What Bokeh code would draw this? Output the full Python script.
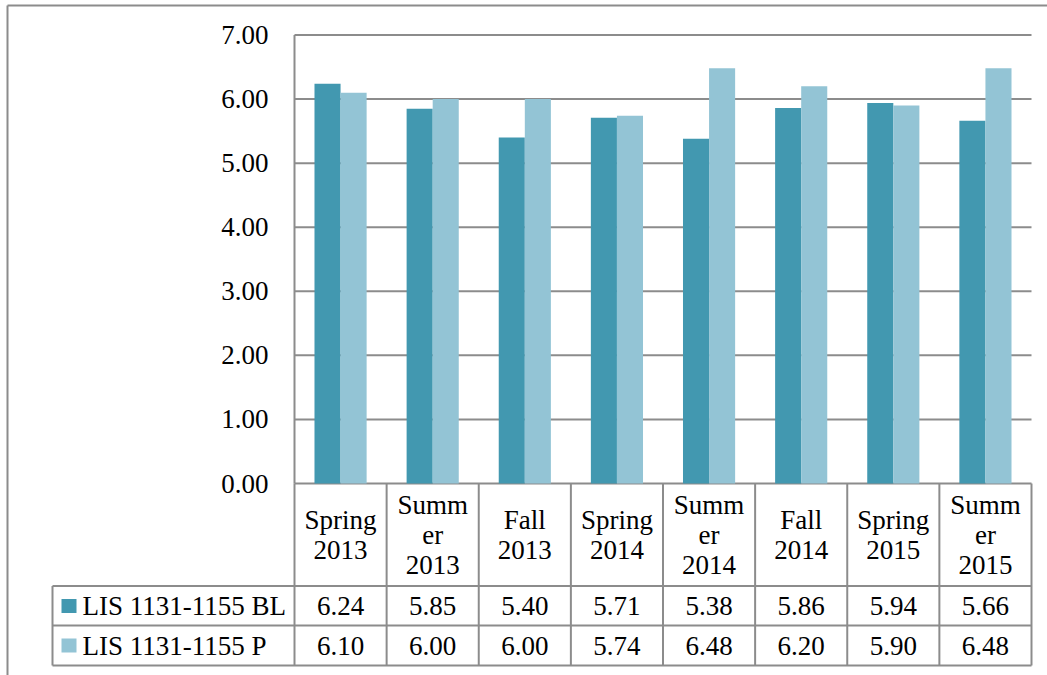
from bokeh.plotting import figure
from bokeh.models import Range1d
from bokeh.embed import file_html
from bokeh.resources import INLINE
from bokeh.core.properties import value

# ---------------- data ----------------
categories = ["Spring 2013", "Summer 2013", "Fall 2013", "Spring 2014",
              "Summer 2014", "Fall 2014", "Spring 2015", "Summer 2015"]
header_labels = ["Spring\n2013", "Summ\ner\n2013", "Fall\n2013", "Spring\n2014",
                 "Summ\ner\n2014", "Fall\n2014", "Spring\n2015", "Summ\ner\n2015"]
series_names = ["LIS 1131-1155 BL", "LIS 1131-1155 P"]
bl_values = [6.24, 5.85, 5.40, 5.71, 5.38, 5.86, 5.94, 5.66]
p_values = [6.10, 6.00, 6.00, 5.74, 6.48, 6.20, 5.90, 6.48]
y_ticks = [0, 1, 2, 3, 4, 5, 6, 7]
y_tick_labels = ["0.00", "1.00", "2.00", "3.00", "4.00", "5.00", "6.00", "7.00"]

# ---------------- style / layout ----------------
FONT = "Liberation Serif"
FS = "27px"
GRID = "#8c8c8c"
C_BL = "#4298b0"
C_P = "#93c4d5"
W, H = 1047, 675
ORIGIN_X, CAT_PX = 294.0, 92.125     # px of category 0 left edge, px per category
ZERO_Y, UNIT_PX = 483.0, 64.07       # px of value 0, px per value unit
BAR_W = 0.283

def cx(px):
    return (px - ORIGIN_X) / CAT_PX

def vy(py):
    return (ZERO_Y - py) / UNIT_PX

p = figure(width=W, height=H, x_range=Range1d(cx(0), cx(W)), y_range=Range1d(vy(H), vy(0)),
           output_backend="svg", toolbar_location=None,
           x_axis_location=None, y_axis_location=None,
           min_border_left=0, min_border_right=0, min_border_top=0, min_border_bottom=0)
p.outline_line_color = None
p.xgrid.visible = False
p.ygrid.visible = False
p.background_fill_color = "white"
p.border_fill_color = "white"

n = len(categories)
xs = [i + 0.5 for i in range(n)]

# outer chart-area border (top and left edges visible)
p.segment(x0=[cx(7), cx(7)], y0=[vy(5), vy(5)], x1=[cx(W + 5), cx(7)], y1=[vy(5), vy(H + 5)],
          line_color=GRID, line_width=2)

# horizontal grid lines of the value scale
p.segment(x0=[0] * len(y_ticks), y0=y_ticks, x1=[n] * len(y_ticks), y1=y_ticks,
          line_color=GRID, line_width=2)
# value axis line
p.segment(x0=[0], y0=[0], x1=[0], y1=[max(y_ticks)], line_color=GRID, line_width=2)
# value tick labels
p.text(x=[cx(268)] * len(y_ticks), y=y_ticks, text=y_tick_labels, text_font=value(FONT),
       text_font_size=FS, text_align="right", text_baseline="middle", text_color="black")

# bars
p.vbar(x=[x - BAR_W / 2 for x in xs], top=bl_values, width=BAR_W, fill_color=C_BL, line_color=None)
p.vbar(x=[x + BAR_W / 2 for x in xs], top=p_values, width=BAR_W, fill_color=C_P, line_color=None)

# ---------------- data table ----------------
leg_x = cx(52)
row_lines = [vy(585.5), vy(625), vy(665)]
p.segment(x0=list(range(n + 1)), y0=[0] * (n + 1), x1=list(range(n + 1)), y1=[row_lines[-1]] * (n + 1),
          line_color=GRID, line_width=2)
p.segment(x0=[leg_x], y0=[row_lines[0]], x1=[leg_x], y1=[row_lines[-1]], line_color=GRID, line_width=2)
p.segment(x0=[leg_x] * 3, y0=row_lines, x1=[n] * 3, y1=row_lines, line_color=GRID, line_width=2)

p.text(x=xs, y=[vy(534)] * n, text=header_labels, text_font=value(FONT), text_font_size=FS,
       text_align="center", text_baseline="middle", text_line_height=1.0, text_color="black")
row_centers = [vy(605.5), vy(645)]
for vals, yc in zip([bl_values, p_values], row_centers):
    p.text(x=xs, y=[yc] * n, text=[f"{v:.2f}" for v in vals], text_font=value(FONT),
           text_font_size=FS, text_align="center", text_baseline="middle", text_color="black")

sw = 7 / UNIT_PX
for name, color, yc in zip(series_names, [C_BL, C_P], row_centers):
    p.quad(left=[cx(61)], right=[cx(76)], top=[yc + sw], bottom=[yc - sw], fill_color=color, line_color=None)
    p.text(x=[cx(82)], y=[yc], text=[name], text_font=value(FONT), text_font_size=FS,
           text_align="left", text_baseline="middle", text_color="black")

open("out.html", "w").write(file_html(p, INLINE))
